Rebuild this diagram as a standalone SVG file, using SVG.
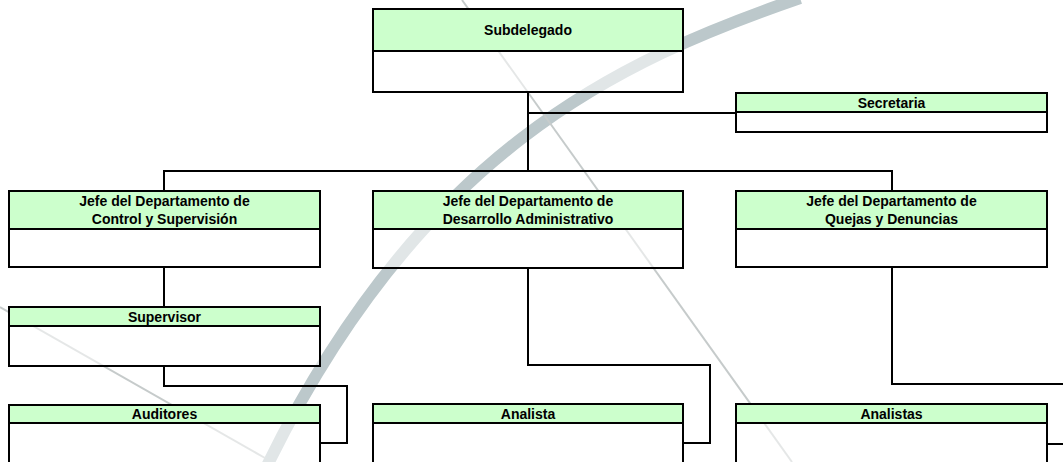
<svg xmlns="http://www.w3.org/2000/svg" width="1063" height="462" viewBox="0 0 1063 462">
<style>
.box{fill:#ffffff;fill-opacity:0.55;stroke:#000;stroke-width:2}
.hdr{fill:#ccffcc;stroke:#000;stroke-width:2}
.t{font-family:"Liberation Sans",Arial,sans-serif;font-weight:bold;font-size:14px;fill:#000;text-anchor:middle}
.c{fill:none;stroke:#000;stroke-width:2}
.wm{fill:none}
</style>
<rect x="0" y="0" width="1063" height="462" fill="#ffffff"/>
<g id="watermark">
<path class="wm" d="M 800 -2 C 620 60, 420 150, 265 470" stroke="#bcc8cb" stroke-width="12"/>
<line class="wm" x1="462" y1="0" x2="792" y2="462" stroke-width="2" stroke="#c6cbcb"/>
<line class="wm" x1="0" y1="307" x2="265" y2="458" stroke-width="2" stroke="#c6cbcb"/>
</g>
<g id="connectors">
<path class="c" d="M528 92 V171"/>
<path class="c" d="M528 113 H736"/>
<path class="c" d="M164 190 V171 H892 V190"/>
<path class="c" d="M164 267 V307"/>
<path class="c" d="M164 366 V386 H347 V443 H320"/>
<path class="c" d="M528 268 V365 H710 V443 H683"/>
<path class="c" d="M892 267 V384 H1075 V444 H1047"/>
</g>
<g id="subdelegado">
<rect class="box" x="373" y="9" width="310" height="83"/>
<rect class="hdr" x="373" y="9" width="310" height="42"/>
<text class="t" x="528" y="35">Subdelegado</text>
</g>
<g id="secretaria">
<rect class="box" x="736" y="93" width="311" height="39"/>
<rect class="hdr" x="736" y="93" width="311" height="19"/>
<text class="t" x="891.5" y="107.5">Secretaria</text>
</g>
<g id="jefe-control">
<rect class="box" x="9" y="191" width="311" height="76"/>
<rect class="hdr" x="9" y="191" width="311" height="38"/>
<text class="t" x="164.5" y="206">Jefe del Departamento de</text>
<text class="t" x="164.5" y="224">Control y Supervisión</text>
</g>
<g id="jefe-desarrollo">
<rect class="box" x="373" y="191" width="310" height="77"/>
<rect class="hdr" x="373" y="191" width="310" height="38"/>
<text class="t" x="528" y="206">Jefe del Departamento de</text>
<text class="t" x="528" y="224">Desarrollo Administrativo</text>
</g>
<g id="jefe-quejas">
<rect class="box" x="736" y="191" width="311" height="76"/>
<rect class="hdr" x="736" y="191" width="311" height="38"/>
<text class="t" x="891.5" y="206">Jefe del Departamento de</text>
<text class="t" x="891.5" y="224">Quejas y Denuncias</text>
</g>
<g id="supervisor">
<rect class="box" x="9" y="307" width="311" height="59"/>
<rect class="hdr" x="9" y="307" width="311" height="19"/>
<text class="t" x="164.5" y="321.5">Supervisor</text>
</g>
<g id="auditores">
<rect class="box" x="9" y="405" width="311" height="70"/>
<rect class="hdr" x="9" y="405" width="311" height="18"/>
<text class="t" x="164.5" y="419">Auditores</text>
</g>
<g id="analista">
<rect class="box" x="373" y="404" width="310" height="70"/>
<rect class="hdr" x="373" y="404" width="310" height="19"/>
<text class="t" x="528" y="418.5">Analista</text>
</g>
<g id="analistas">
<rect class="box" x="736" y="404" width="311" height="70"/>
<rect class="hdr" x="736" y="404" width="311" height="19"/>
<text class="t" x="891.5" y="418.5">Analistas</text>
</g>
</svg>
